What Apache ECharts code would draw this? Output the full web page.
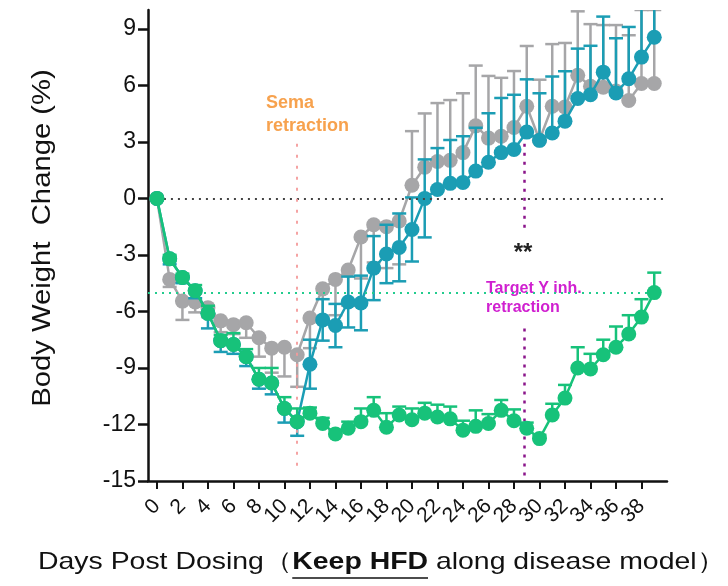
<!DOCTYPE html>
<html><head><meta charset="utf-8">
<script src="https://cdn.jsdelivr.net/npm/echarts@6/dist/echarts.min.js"></script>
<style>html,body{margin:0;padding:0;background:#fff}#c{width:728px;height:586px}</style>
</head><body><div id="c"></div>
<script>
const days = [0,1,2,3,4,5,6,7,8,9,10,11,12,13,14,15,16,17,18,19,20,21,22,23,24,25,26,27,28,29,30,31,32,33,34,35,36,37,38,39];
const xTickLabels = [0,2,4,6,8,10,12,14,16,18,20,22,24,26,28,30,32,34,36,38];
const yTickLabels = [-15,-12,-9,-6,-3,0,3,6,9];

// grey group
const greyMean = [0,-4.3,-5.45,-5.5,-5.8,-6.5,-6.7,-6.6,-7.4,-7.95,-7.9,-8.3,-6.35,-4.8,-4.3,-3.8,-2.05,-1.4,-1.5,-1.2,0.7,1.66,1.96,2.02,2.43,3.85,3.2,3.3,3.76,4.89,3.1,4.89,4.85,6.53,5.95,5.9,5.7,5.2,6.1,6.1];
const greyErrLow = [0,0.4,1.0,0.55,0.5,0.6,0.5,0.8,1.0,1.3,1.55,1.7,1.6,1.8,1.9,1.9,2.2,2.0,2.2,2.3,0,0,0,0,0,0,0,0,0,0,0,0,0,0,0,0,0,0,0,0];
const greyErrHigh = [0,0,0,0,0,0,0,0,0,0,0,0,0,0,0,0,0,0,0,0,2.87,2.85,3.1,3.2,3.15,3.2,3.3,3.1,3.0,3.2,3.2,3.3,3.4,3.4,3.3,3.3,3.5,3.46,3.9,3.9];

// teal group (Sema retraction)
const tealMean = [0,-3.2,-4.2,-4.9,-6.1,-7.55,-7.75,-8.4,-9.6,-9.8,-11.15,-11.85,-8.8,-6.45,-6.75,-5.5,-5.55,-3.7,-2.95,-2.6,-1.65,0.0,0.47,0.8,0.85,1.45,1.92,2.43,2.6,3.52,3.08,3.47,4.1,5.3,5.5,6.7,5.6,6.35,7.5,8.55];
const tealErrLow = [0,0.3,0.3,0.4,0.8,0.6,0.5,0.5,0.5,0.6,0.75,0.75,1.3,1.1,1.15,1.35,1.45,1.7,1.55,1.8,1.7,2.07,0,0,0,0,0,0,0,0,0,0,0,0,0,0,0,0,0,0];
const tealErrHigh = [0,0,0,0,0,0,0,0,0,0,0,0,1.3,1.1,1.15,1.35,1.45,1.7,1.55,1.8,1.7,2.07,2.2,2.3,2.45,2.3,2.6,2.9,2.9,2.8,2.5,3.0,2.65,2.65,2.6,2.95,2.9,2.75,2.8,2.8];

// green group (Target Y inh.)
const greenMean = [0,-3.2,-4.2,-4.9,-6.1,-7.55,-7.75,-8.4,-9.6,-9.8,-11.15,-11.85,-11.4,-11.95,-12.5,-12.2,-11.85,-11.25,-12.15,-11.5,-11.75,-11.4,-11.6,-11.7,-12.3,-12.1,-11.95,-11.25,-11.8,-12.2,-12.75,-11.5,-10.6,-9.0,-9.05,-8.3,-7.9,-7.2,-6.3,-5.0];
const greenErrHigh = [0,0.2,0.2,0.3,0.4,0.3,0.6,0.4,0.6,0.8,0.6,0.7,0.3,0.3,0.2,0.35,0.7,0.7,0.75,0.45,0.6,0.55,0.65,0.65,0.5,0.85,0.5,0.55,0.6,0.3,0.2,0.6,0.7,1.1,0.8,0.8,1.1,1.0,0.95,1.06];
const greenErrLow = [0,0,0,0,0,0,0,0,0,0,0,0,0,0,0,0,0,0,0,0,0,0,0,0,0,0,0,0,0,0,0,0,0,0,0,0,0,0,0,0];

const semaDay = 11;
const targetDay = 28.8;
const refLevel = -5;

const GREY = '#a6a6a8', TEAL = '#1b9db4', GREEN = '#17c27a';
const FONT = '"Liberation Sans", Arial, sans-serif';

function errSeries(color, means, lo, hi, z) {
  return {
    type: 'custom', z: z, clip: true, silent: true,
    data: days.map((d, i) => [d, means[i], lo[i], hi[i]]),
    encode: {x: 0, y: 1},
    renderItem(params, api) {
      const x = api.value(0), m = api.value(1), l = api.value(2), h = api.value(3);
      const c = api.coord([x, m]);
      const hw = 7;
      const st = {stroke: color, lineWidth: 2.5};
      const ch = [];
      if (h > 0) {
        const t = api.coord([x, m + h]);
        ch.push({type: 'line', shape: {x1: c[0], y1: c[1], x2: t[0], y2: t[1]}, style: st});
        ch.push({type: 'line', shape: {x1: t[0] - hw, y1: t[1], x2: t[0] + hw, y2: t[1]}, style: st});
      }
      if (l > 0) {
        const b = api.coord([x, m - l]);
        ch.push({type: 'line', shape: {x1: c[0], y1: c[1], x2: b[0], y2: b[1]}, style: st});
        ch.push({type: 'line', shape: {x1: b[0] - hw, y1: b[1], x2: b[0] + hw, y2: b[1]}, style: st});
      }
      return {type: 'group', children: ch};
    }
  };
}
function lineSeries(color, means, z, extra) {
  return Object.assign({
    type: 'line', z: z, data: days.map((d, i) => [d, means[i]]),
    symbol: 'circle', symbolSize: 15, showSymbol: true,
    lineStyle: {color: color, width: 2.5}, itemStyle: {color: color},
    silent: true
  }, extra || {});
}

const chart = echarts.init(document.getElementById('c'), null, {renderer: 'canvas'});

// measure title parts (for stretching to the reference width and for the underline)
const cv = document.createElement('canvas').getContext('2d');
const titleX = 38, titleY = 550, titleSize = 24, titleRight = 725;
cv.font = titleSize + 'px ' + FONT;
const w1 = cv.measureText('Days Post Dosing（').width;
const w3 = cv.measureText(' along disease model）').width;
cv.font = 'bold ' + titleSize + 'px ' + FONT;
const w2 = cv.measureText('Keep HFD').width;
const titleScale = (titleRight - titleX) / (w1 + w2 + w3);

// labels split across two overlaid bottom axes so that neighbouring rotated labels are not auto-hidden
const xLabelsA = xTickLabels.filter((v, i) => i % 2 === 0);
const xLabelsB = xTickLabels.filter((v, i) => i % 2 === 1);
const xLabelStyle = {rotate: 45, fontSize: 21, fontFamily: FONT, color: '#111', margin: 22,
  showMaxLabel: true, showMinLabel: true, hideOverlap: false};

const option = {
  animation: false,
  grid: {left: 148, right: 61, top: 10, bottom: 105, outerBoundsMode: 'none'},
  xAxis: [{
    type: 'value', min: -0.7, max: 40, position: 'bottom',
    axisLine: {onZero: false, lineStyle: {color: '#111', width: 2.5}},
    axisTick: {show: true, length: 8, lineStyle: {color: '#111', width: 2}, customValues: xTickLabels},
    axisLabel: Object.assign({customValues: xLabelsA}, xLabelStyle),
    splitLine: {show: false}
  }, {
    type: 'value', min: -0.7, max: 40, position: 'bottom', offset: 0,
    axisLine: {show: false, onZero: false},
    axisTick: {show: false},
    axisLabel: Object.assign({customValues: xLabelsB}, xLabelStyle),
    splitLine: {show: false}
  }],
  yAxis: {
    type: 'value', min: -15, max: 10,
    axisLine: {show: true, onZero: false, lineStyle: {color: '#111', width: 2.5}},
    axisTick: {show: true, length: 10, lineStyle: {color: '#111', width: 2.5}, customValues: yTickLabels},
    axisLabel: {customValues: yTickLabels, fontSize: 23, fontFamily: FONT, color: '#111', margin: 12},
    splitLine: {show: false}
  },
  graphic: [
    {type: 'text', x: 43, y: 238, rotation: Math.PI / 2, scaleX: 1.17,
     style: {text: 'Body Weight  Change (%)', font: '25px ' + FONT, fill: '#111', align: 'center', verticalAlign: 'middle'}},
    {type: 'text', x: titleX, y: titleY, scaleX: titleScale,
     style: {text: 'Days Post Dosing（{b|Keep HFD} along disease model）', font: titleSize + 'px ' + FONT, fill: '#111',
       rich: {b: {fontWeight: 'bold', fontSize: titleSize, fontFamily: FONT, fill: '#111'}}}},
    {type: 'line', shape: {x1: titleX + w1 * titleScale, y1: 578, x2: titleX + (w1 + w2) * titleScale, y2: 578},
     style: {stroke: '#111', lineWidth: 1.5}},
    {type: 'text', x: 266, y: 92,
     style: {text: 'Sema\nretraction', font: 'bold 18px ' + FONT, fill: '#f7a24e', lineHeight: 23}},
    {type: 'text', x: 523, y: 253,
     style: {text: '**', font: 'bold 24px ' + FONT, fill: '#222', align: 'center', verticalAlign: 'middle'}},
    {type: 'text', x: 486, y: 279,
     style: {text: 'Target Y inh.\nretraction', font: 'bold 16px ' + FONT, fill: '#d020d0', lineHeight: 19}}
  ],
  series: [
    errSeries(GREY, greyMean, greyErrLow, greyErrHigh, 1),
    lineSeries(GREY, greyMean, 2, {
      markLine: {
        silent: true, symbol: ['none', 'none'], label: {show: false},
        data: [
          [{coord: [0, 0], lineStyle: {color: '#444', type: [2, 5], width: 2}}, {coord: [40, 0]}],
          [{coord: [-0.7, refLevel], lineStyle: {color: '#22cc8e', type: [2, 5], width: 2}}, {coord: [39, refLevel]}],
          [{coord: [semaDay, 2.9], lineStyle: {color: '#f49a9a', type: [3, 8], width: 1.8}}, {coord: [semaDay, -14.5]}],
          [{coord: [targetDay, 2.9], lineStyle: {color: '#8a148a', type: [3, 6], width: 2.5}}, {coord: [targetDay, -1.8]}],
          [{coord: [targetDay, -6.9], lineStyle: {color: '#8a148a', type: [3, 6], width: 2.5}}, {coord: [targetDay, -14.9]}]
        ]
      }
    }),
    errSeries(TEAL, tealMean, tealErrLow, tealErrHigh, 3),
    lineSeries(TEAL, tealMean, 4),
    errSeries(GREEN, greenMean, greenErrLow, greenErrHigh, 5),
    lineSeries(GREEN, greenMean, 6)
  ]
};
chart.setOption(option);
</script>
</body></html>
